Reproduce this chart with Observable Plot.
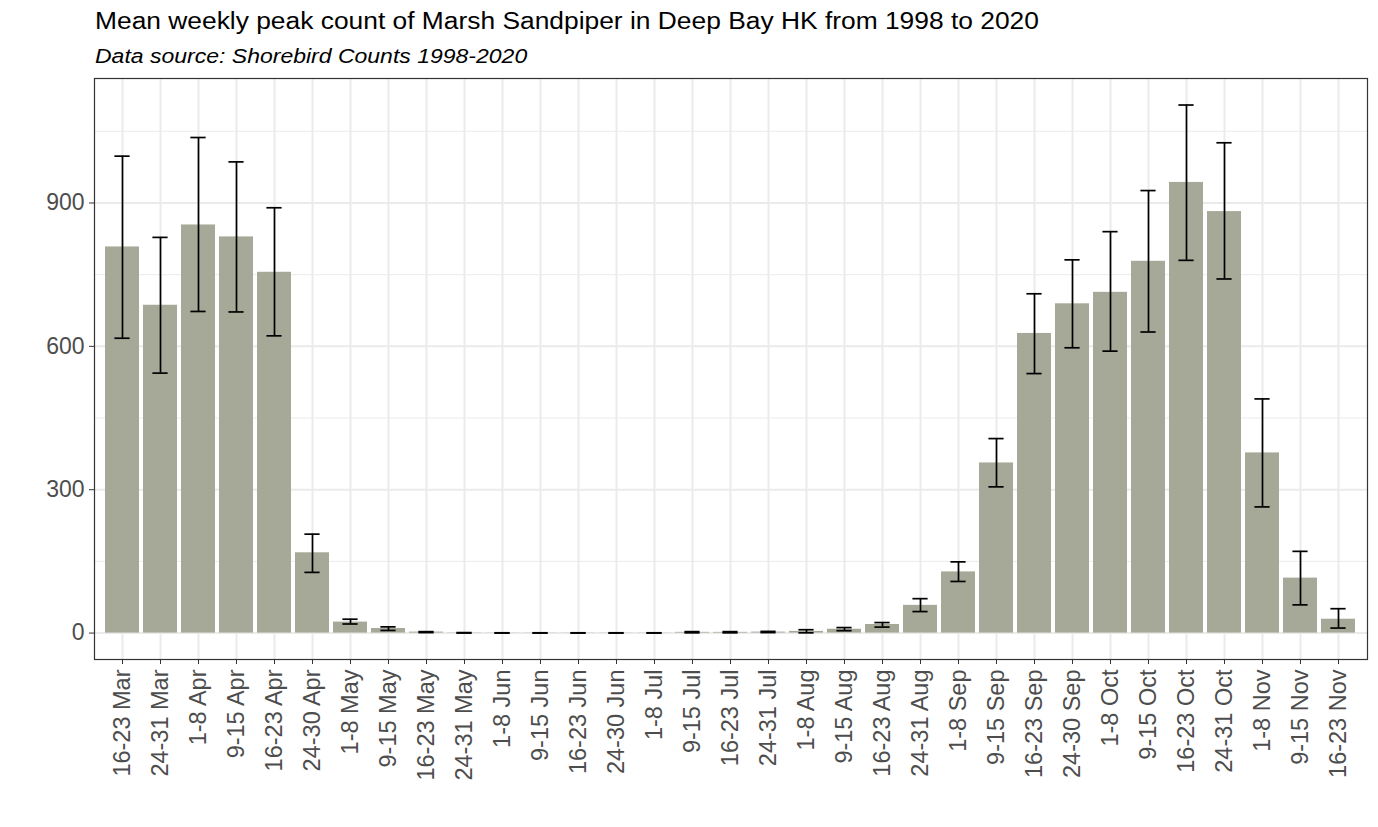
<!DOCTYPE html>
<html>
<head>
<meta charset="utf-8">
<script src="https://cdn.jsdelivr.net/npm/d3@7"></script>
<script src="https://cdn.jsdelivr.net/npm/@observablehq/plot@0.6"></script>
<style>
  html, body { margin: 0; padding: 0; background: #fff; }
  body { font-family: "Liberation Sans", Arial, sans-serif; width: 1378px; overflow: hidden; }
  #title { margin-left: 95px; font-size: 23.5px; line-height: 42px; height: 42px; color: #000; white-space: nowrap; transform: scaleX(1.122); transform-origin: 0 50%; }
  #subtitle { margin-left: 95px; font-size: 20.5px; line-height: 28px; height: 28px; font-style: italic; color: #000; white-space: nowrap; transform: scaleX(1.122); transform-origin: 0 50%; }
  #chart svg { display: block; }
</style>
</head>
<body>
<div id="title">Mean weekly peak count of Marsh Sandpiper in Deep Bay HK from 1998 to 2020</div>
<div id="subtitle">Data source: Shorebird Counts 1998-2020</div>
<div id="chart"></div>
<script>
const weeks = ["16-23 Mar","24-31 Mar","1-8 Apr","9-15 Apr","16-23 Apr","24-30 Apr","1-8 May","9-15 May","16-23 May","24-31 May","1-8 Jun","9-15 Jun","16-23 Jun","24-30 Jun","1-8 Jul","9-15 Jul","16-23 Jul","24-31 Jul","1-8 Aug","9-15 Aug","16-23 Aug","24-31 Aug","1-8 Sep","9-15 Sep","16-23 Sep","24-30 Sep","1-8 Oct","9-15 Oct","16-23 Oct","24-31 Oct","1-8 Nov","9-15 Nov","16-23 Nov"];
const meanCount = [808,686,854,829,755,168,23,9.5,2,0.5,0.3,0.3,0.3,0.3,0.3,1.5,1.5,2,3.5,8,18,58,128,356,627,689,713,778,943,882,377,115,29];
const lowerErr  = [617,544,673,672,622,127,19,5.5,1,0,0,0,0,0,0,0.5,0.5,1,0.5,5,12.5,45,108,306,543,597,590,630,780,741,264,59,10.5];
const upperErr  = [998,828,1037,986,890,207,29,13,3,1,0.6,0.6,0.6,0.6,0.6,3,3,3.5,7,11.5,22,72,149,407,710,781,840,926,1105,1026,490,171,51];
const yTicks = [0,300,600,900];
const yMinorTicks = [150,450,750,1050];

const data = weeks.map((w,i) => ({week: w, mean: meanCount[i], lo: lowerErr[i], hi: upperErr[i]}));

const chart = Plot.plot({
  width: 1378,
  height: 757,
  marginTop: 8,
  marginBottom: 168,
  marginLeft: 94,
  marginRight: 11,
  style: {fontFamily: "Liberation Sans, Arial, sans-serif", background: "#fff"},
  x: {type: "band", domain: weeks, paddingInner: 0.1, paddingOuter: 0.15, align: 0.5, label: null},
  y: {domain: [-55.3, 1160.5], label: null},
  marks: [
    Plot.gridY(yMinorTicks, {stroke: "#ebebeb", strokeOpacity: 1, strokeWidth: 1}),
    Plot.gridY(yTicks, {stroke: "#ebebeb", strokeOpacity: 1, strokeWidth: 2}),
    Plot.gridX(weeks, {stroke: "#ebebeb", strokeOpacity: 1, strokeWidth: 2}),
    Plot.barY(data, {x: "week", y: "mean", fill: "#a6a898"}),
    Plot.ruleX(data, {x: "week", y1: "lo", y2: "hi", stroke: "#000", strokeWidth: 1.7}),
    Plot.tickY(data, {x: "week", y: "hi", stroke: "#000", strokeWidth: 1.7, insetLeft: 9.4, insetRight: 9.4}),
    Plot.tickY(data, {x: "week", y: "lo", stroke: "#000", strokeWidth: 1.7, insetLeft: 9.4, insetRight: 9.4}),
    Plot.frame({stroke: "#333333", strokeWidth: 1.2}),
    Plot.axisY(yTicks, {tickSize: 5, tickPadding: 5, fontSize: 23, fill: "#4d4d4d", stroke: "#333333", label: null}),
    Plot.axisX({tickSize: 5, tickPadding: 5, fontSize: 23.5, tickRotate: -90, fill: "#4d4d4d", stroke: "#333333", label: null})
  ]
});
document.getElementById("chart").appendChild(chart);
</script>
</body>
</html>
